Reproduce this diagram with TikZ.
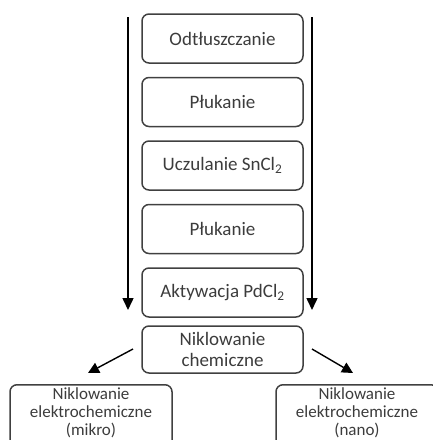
\documentclass[tikz,border=0pt]{standalone}
\usepackage{fontspec}
\setmainfont{Carlito}
\usetikzlibrary{arrows.meta}
\definecolor{ramka}{HTML}{404040}
\definecolor{napis}{HTML}{3C3C3C}
\def\etapfont{\fontsize{19}{21}\selectfont}
\def\galazfont{\fontsize{17}{18}\selectfont}
\tikzset{
	etap/.style={draw=ramka, line width=1.5pt, rounded corners=7pt, text=napis, font=\etapfont,
		minimum width=161pt, minimum height=49pt, align=center, inner sep=0pt},
	galaz/.style={draw=ramka, line width=1.5pt, rounded corners=7pt, text=napis, font=\galazfont,
		minimum width=162pt, align=center, inner sep=3pt, anchor=north, text depth=15pt},
	strzalka/.style={-{Triangle[length=12pt,width=11pt]}, line width=1.5pt, black},
	strzalka2/.style={-{Triangle[length=11pt,width=11pt]}, line width=1.4pt, black}
}

\begin{document}
\begin{tikzpicture}[x=1pt, y=-1pt]
			%%%%% START %%%%%
			\useasboundingbox (0, 0) rectangle (433, 440);
			\clip (0, 0) rectangle (433, 440);
			
			\node[etap] (odt) at (222.5, 38.5) {Odtłuszczanie};
			\node[etap] (plk1) at (222.5, 102) {Płukanie};
			\node[etap] (ucz) at (222.5, 165.5) {Uczulanie SnCl\textsubscript{2}};
			\node[etap] (plk2) at (222.5, 229) {Płukanie};
			\node[etap] (akt) at (222.5, 292.5) {Aktywacja PdCl\textsubscript{2}};
			\node[etap, minimum height=47pt] (chem) at (222.5, 349.5) {Niklowanie\\chemiczne};
			
			\node[galaz] (mikro) at (91, 384) {Niklowanie\\elektrochemiczne\\(mikro)};
			\node[galaz] (nano) at (357, 384) {Niklowanie\\elektrochemiczne\\(nano)};
			
			% strzalki pionowe
			\coordinate (lg) at (128, 17);
			\coordinate (ld) at (128, 310);
			\coordinate (pg) at (312, 17);
			\coordinate (pd) at (312, 310);
			\draw[strzalka] (lg) -- (ld);
			\draw[strzalka] (pg) -- (pd);
			
			% rozgalezienie
			\coordinate (l1) at (133, 349);
			\coordinate (l2) at (88, 373);
			\coordinate (p1) at (312, 349);
			\coordinate (p2) at (353, 373);
			\draw[strzalka2] (l1) -- (l2);
			\draw[strzalka2] (p1) -- (p2);
			%%%%% END %%%%%
\end{tikzpicture}
\end{document}
